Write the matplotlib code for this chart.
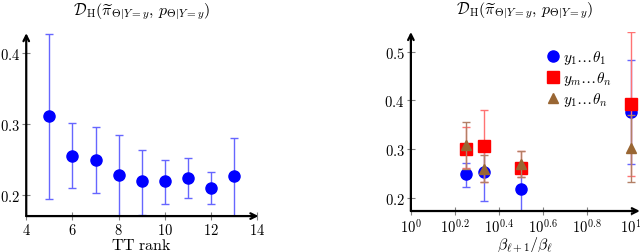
import matplotlib.pyplot as plt
from matplotlib.lines import Line2D
import numpy as np

plt.rcParams['mathtext.fontset'] = 'cm'
plt.rcParams['font.family'] = 'serif'
plt.rcParams['font.serif'] = ['DejaVu Serif']

# left panel: TT rank
rank = [5, 6, 7, 8, 9, 10, 11, 12, 13]
rank_mean = [0.311, 0.255, 0.249, 0.228, 0.219, 0.219, 0.224, 0.210, 0.226]
rank_lo = [0.194, 0.209, 0.202, 0.160, 0.172, 0.187, 0.196, 0.187, 0.160]
rank_hi = [0.427, 0.301, 0.296, 0.285, 0.263, 0.249, 0.252, 0.232, 0.280]

# right panel: beta ratio
beta = [10 ** 0.25, 10 ** (1 / 3), 10 ** 0.5, 10.0]
blue_mean = [0.248, 0.252, 0.219, 0.376]
blue_lo = [0.223, 0.193, 0.160, 0.270]
blue_hi = [0.272, 0.300, 0.265, 0.482]
red_mean = [0.301, 0.306, 0.261, 0.393]
red_lo = [0.262, 0.233, 0.242, 0.245]
red_hi = [0.345, 0.381, 0.296, 0.540]
brown_mean = [0.308, 0.260, 0.269, 0.302]
brown_lo = [0.259, 0.232, 0.242, 0.233]
brown_hi = [0.355, 0.288, 0.296, 0.370]

labels = [r'$y_1 \ldots \theta_1$', r'$y_m \ldots \theta_n$',
          r'$y_1 \ldots \theta_n$']
title = r'$\mathcal{D}_{\mathrm{H}}(\widetilde{\pi}_{\Theta|Y=y},\, p_{\Theta|Y=y})$'
brown = (0.6, 0.4, 0.2)

fig = plt.figure(figsize=(6.4, 2.53), dpi=100)
ax1 = fig.add_axes([0.041, 0.142, 0.361, 0.723])
ax2 = fig.add_axes([0.642, 0.162, 0.356, 0.7075])


def err(mean, lo, hi):
    m = np.array(mean)
    return [m - np.array(lo), np.array(hi) - m]


def style(ax):
    for s in ax.spines.values():
        s.set_visible(False)
    ax.annotate('', xy=(1.005, 0), xytext=(0, 0), xycoords='axes fraction',
                arrowprops=dict(arrowstyle='->', lw=1.6, color='black',
                                shrinkA=0, shrinkB=0), annotation_clip=False)
    ax.annotate('', xy=(0, 1.0), xytext=(0, 0), xycoords='axes fraction',
                arrowprops=dict(arrowstyle='->', lw=1.6, color='black',
                                shrinkA=0, shrinkB=0), annotation_clip=False)
    ax.tick_params(direction='inout', length=6, color='gray', labelsize=10.5,
                   width=0.8, pad=1.5)
    ax.tick_params(which='minor', length=0)


# left
ax1.errorbar(rank, rank_mean, yerr=err(rank_mean, rank_lo, rank_hi), fmt='o',
             color='blue', ms=8, ecolor=(0.4, 0.4, 1.0), elinewidth=1,
             capsize=3, zorder=3)
ax1.set_xlim(4, 14)
ax1.set_ylim(0.170, 0.428)
ax1.set_xticks([4, 6, 8, 10, 12, 14])
ax1.set_xticklabels([f'${v}$' for v in [4, 6, 8, 10, 12, 14]])
ax1.set_yticks([0.2, 0.3, 0.4])
ax1.set_yticklabels(['$0.2$', '$0.3$', '$0.4$'])
ax1.set_xlabel(r'$\mathrm{TT\ rank}$', fontsize=11.5, labelpad=-1)
ax1.set_title(title, fontsize=11.5, pad=14)
style(ax1)

# right
ax2.set_xscale('log')
ax2.errorbar(beta, blue_mean, yerr=err(blue_mean, blue_lo, blue_hi), fmt='o',
             color='blue', ms=8, ecolor=(0.4, 0.4, 1.0), elinewidth=1,
             capsize=3, zorder=3)
ax2.errorbar(beta, red_mean, yerr=err(red_mean, red_lo, red_hi), fmt='s',
             color='red', ms=8, ecolor=(1.0, 0.45, 0.45), elinewidth=1,
             capsize=3, zorder=4)
ax2.errorbar(beta, brown_mean, yerr=err(brown_mean, brown_lo, brown_hi),
             fmt='^', color=brown, ms=7, ecolor=(0.7, 0.5, 0.4), elinewidth=1,
             capsize=3, zorder=5)
ax2.set_xlim(1, 10 ** 1.035)
ax2.set_ylim(0.173, 0.54)
ticks = [10 ** v for v in [0, 0.2, 0.4, 0.6, 0.8, 1.0]]
ax2.set_xticks(ticks)
ax2.set_xticklabels(['$10^{0}$', '$10^{0.2}$', '$10^{0.4}$', '$10^{0.6}$',
                     '$10^{0.8}$', '$10^{1}$'])
ax2.set_yticks([0.2, 0.3, 0.4, 0.5])
ax2.set_yticklabels(['$0.2$', '$0.3$', '$0.4$', '$0.5$'])
ax2.set_xlabel(r'$\beta_{\ell+1}/\beta_{\ell}$', fontsize=11.5, labelpad=-1)
ax2.set_title(title, fontsize=11.5, pad=14)
style(ax2)

handles = [Line2D([], [], ls='', marker='o', color='blue', ms=8),
           Line2D([], [], ls='', marker='s', color='red', ms=8),
           Line2D([], [], ls='', marker='^', color=brown, ms=7)]
ax2.legend(handles, labels, loc='upper left', bbox_to_anchor=(0.545, 0.97),
           frameon=False, fontsize=11, handletextpad=0.15, borderpad=0.2,
           labelspacing=0.2, handlelength=1.0)

fig.savefig('out.png', dpi=100)
